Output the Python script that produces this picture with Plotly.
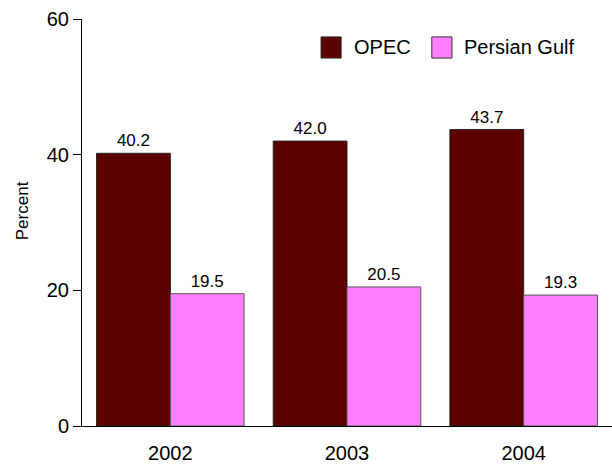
import plotly.graph_objects as go

years = ["2002", "2003", "2004"]
opec = [40.2, 42.0, 43.7]
persian_gulf = [19.5, 20.5, 19.3]
y_ticks = [0, 20, 40, 60]
series_names = ["OPEC", "Persian Gulf"]
series_colors = ["#5C0000", "#FF80FF"]

fig = go.Figure()
for name, vals, col, lc in [(series_names[0], opec, series_colors[0], "#222222"),
                            (series_names[1], persian_gulf, series_colors[1], "#555555")]:
    fig.add_trace(go.Bar(
        x=years, y=vals, name=name,
        marker=dict(color=col, line=dict(color=lc, width=1)),
        text=[f"{v:.1f}" for v in vals], textposition="outside",
        textfont=dict(size=17, color="black"), cliponaxis=False,
        showlegend=False,
    ))

# custom legend (larger squares like reference)
shapes = []
annotations = []
leg = [(0.451, 0.489, 0.509), (0.660, 0.698, 0.717)]
for (x0, x1, tx), name, col in zip(leg, series_names, series_colors):
    shapes.append(dict(type="rect", xref="paper", yref="paper", x0=x0, x1=x1,
                       y0=0.904, y1=0.956, fillcolor=col,
                       line=dict(color="#333333", width=1)))
    annotations.append(dict(text=name, xref="paper", yref="paper", x=tx, y=0.930,
                            xanchor="left", yanchor="middle", showarrow=False,
                            font=dict(size=20)))

annotations.append(dict(text="Percent", textangle=-90, xref="paper", yref="paper",
                        x=-0.113, y=0.528, xanchor="center", yanchor="middle",
                        showarrow=False, font=dict(size=17)))

fig.update_layout(
    width=612, height=464,
    margin=dict(l=82, r=0, t=19, b=38),
    paper_bgcolor="white", plot_bgcolor="white",
    font=dict(family="Liberation Sans, Arial, sans-serif", color="black", size=20),
    barmode="group", bargap=0.165, bargroupgap=0,
    xaxis=dict(showline=True, linecolor="black", linewidth=1, ticks="",
               showgrid=False, tickfont=dict(size=20), range=[-0.5, 2.5],
               ticklabelstandoff=9),
    yaxis=dict(range=[0, 60], tickvals=y_ticks, showline=True, linecolor="black",
               linewidth=1, ticks="outside", ticklen=8, tickcolor="black",
               showgrid=False, zeroline=False, tickfont=dict(size=20)),
    shapes=shapes,
    annotations=annotations,
)

fig.write_html("out.html", config={"displayModeBar": False},
               post_script="document.body.style.margin='0';")
